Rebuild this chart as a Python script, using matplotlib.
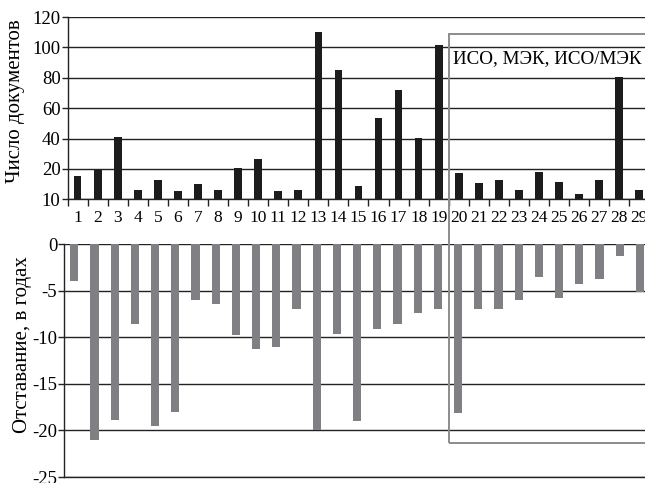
import matplotlib
matplotlib.use("Agg")
import matplotlib.pyplot as plt
from matplotlib.patches import Rectangle
import numpy as np

plt.rcParams['font.family'] = ['Liberation Serif', 'DejaVu Serif']

categories = list(range(1, 30))
docs = [15.4, 19.3, 41.3, 6.1, 12.5, 5.3, 9.9, 6.1, 20.4, 26.4, 5.3, 6.1, 110,
        84.8, 8.8, 53.4, 72, 40.6, 101.3,
        17.1, 10.5, 12.5, 6.1, 18.2, 11.4, 3.5, 12.5, 80.4, 6.1]
lag = [-3.9, -21.0, -18.9, -8.6, -19.5, -18.0, -6.0, -6.4, -9.75, -11.25, -11.0, -7.0, -20.0,
       -9.6, -19.0, -9.1, -8.6, -7.4, -7.0,
       -18.1, -7.0, -7.0, -6.0, -3.5, -5.75, -4.25, -3.7, -1.25, -5.1]
top_ticks = [0, 20, 40, 60, 80, 100, 120]
top_tick_labels = ['10', '20', '40', '60', '80', '100', '120']
bot_ticks = [-25, -20, -15, -10, -5, 0]
bot_tick_labels = ['-25', '-20', '-15', '-10', '-5', '0']
box_text = 'ИСО, МЭК, ИСО/МЭК'
ylabel_top = 'Число документов'
ylabel_bot = 'Отставание, в годах'

W, H = 645, 483
fig = plt.figure(figsize=(W / 100, H / 100), dpi=100)
ax1 = fig.add_axes([67.6 / W, 1 - 199.3 / H, 29 * 20.06 / W, 182.3 / H])
ax2 = fig.add_axes([64.2 / W, 1 - 477.0 / H, 29 * 20.2 / W, 232.7 / H])

x = np.array(categories)

# Top panel
ax1.set_axisbelow(True)
ax1.bar(x, docs, width=0.38, color='#1c1c1c')
ax1.set_xlim(0.5, 29.5)
ax1.set_ylim(0, 120)
ax1.set_yticks(top_ticks)
ax1.set_yticklabels(top_tick_labels, fontsize=13.5)
ax1.yaxis.grid(True, color='#222222', lw=1.0)
ax1.set_xticks(x)
ax1.set_xticklabels([str(c) for c in categories], fontsize=12.5)
ax1.set_xticks(np.arange(0.5, 30, 1), minor=True)
ax1.tick_params(axis='x', which='major', length=0, pad=8)
ax1.tick_params(axis='x', which='minor', length=5, width=1, color='#222222', direction='out')
ax1.tick_params(axis='y', length=4, width=1, color='#222222', pad=1)
for s in ['top', 'right']:
    ax1.spines[s].set_visible(False)
for s in ['left', 'bottom']:
    ax1.spines[s].set_color('#222222')
    ax1.spines[s].set_linewidth(1.0)

# Bottom panel
ax2.set_axisbelow(True)
ax2.bar(x, lag, width=0.4, color='#808084')
ax2.set_xlim(0.5, 29.5)
ax2.set_ylim(-25, 0)
ax2.set_yticks(bot_ticks)
ax2.set_yticklabels(bot_tick_labels, fontsize=13.5)
ax2.yaxis.grid(True, color='#222222', lw=1.0)
ax2.set_xticks([])
ax2.tick_params(axis='y', length=4, width=1, color='#222222', pad=1)
for s in ['top', 'right']:
    ax2.spines[s].set_visible(False)
for s in ['left', 'bottom']:
    ax2.spines[s].set_color('#222222')
    ax2.spines[s].set_linewidth(1.0)

# Y labels
fig.text(16 / W, 1 - 101 / H, ylabel_top, rotation=90, ha='center', va='center', fontsize=15)
fig.text(23 / W, 1 - 345 / H, ylabel_bot, rotation=90, ha='center', va='center', fontsize=15)

# Highlight box spanning both panels
fig.canvas.draw()
inv = fig.transFigure.inverted()
x0 = inv.transform(ax1.transData.transform((19.5, 0)))[0]
y_top = inv.transform(ax1.transData.transform((0, 108.8)))[1]
y_bot = inv.transform(ax2.transData.transform((0, -21.3)))[1]
rect = Rectangle((x0, y_bot), 1.2 - x0, y_top - y_bot, transform=fig.transFigure,
                 fill=False, edgecolor='#8c8c8c', lw=1.4, zorder=10)
fig.add_artist(rect)
fig.text(x0 + 4 / W, 1 - 59 / H, box_text, ha='left', va='center', fontsize=13.7)

fig.savefig('out.png', dpi=100)
